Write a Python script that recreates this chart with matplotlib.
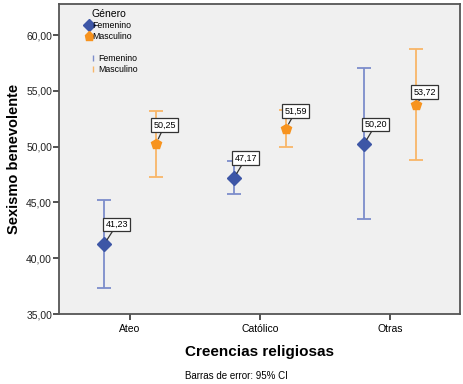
import matplotlib
matplotlib.use("Agg")
import matplotlib.pyplot as plt
import numpy as np
from matplotlib.lines import Line2D
from matplotlib.ticker import FuncFormatter

plt.rcParams['font.family'] = ['Liberation Sans', 'DejaVu Sans']

categories = ["Ateo", "Católico", "Otras"]
fem_mean = [41.23, 47.17, 50.20]
fem_low = [37.33, 45.72, 43.49]
fem_high = [45.22, 48.74, 57.04]
masc_mean = [50.25, 51.59, 53.72]
masc_low = [47.28, 49.96, 48.80]
masc_high = [53.19, 53.28, 58.75]

# label offsets in pixels (box centre relative to point)
fem_off = [(13, 20), (12, 20), (12, 20)]
masc_off = [(9, 19), (10, 18), (9, 13)]

blue = "#3D56A6"
blue_err = "#7C8DCB"
orange = "#F7931E"
orange_err = "#F8B668"

fig = plt.figure(figsize=(4.64, 3.84), dpi=100)
ax = fig.add_axes([59/464, 1-314/384, 401/464, 310/384])
ax.set_facecolor("#F0F0F0")

x = np.arange(len(categories))
dx = 0.2

def draw(xs, mean, lo, hi, ecol, mcol, marker, ms):
    mean = np.array(mean); lo = np.array(lo); hi = np.array(hi)
    ax.errorbar(xs, mean, yerr=[mean - lo, hi - mean], fmt='none', ecolor=ecol,
                elinewidth=1.3, capsize=4.8, capthick=1.3, zorder=2)
    ax.plot(xs, mean, linestyle='none', marker=marker, color=mcol, markersize=ms,
            markeredgecolor=mcol, zorder=3)

draw(x - dx, fem_mean, fem_low, fem_high, blue_err, blue, 'D', 7.5)
draw(x + dx, masc_mean, masc_low, masc_high, orange_err, orange, 'p', 7.5)

def label(xs, vals, offs):
    for xi, v, (ox, oy) in zip(xs, vals, offs):
        ax.annotate(f"{v:.2f}".replace('.', ','), xy=(xi, v),
                    xytext=(ox, oy), textcoords='offset pixels',
                    ha='center', va='center', fontsize=6.5,
                    bbox=dict(boxstyle='square,pad=0.25', fc='white', ec='#333333', lw=0.9),
                    arrowprops=dict(arrowstyle='-', color='#333333', lw=0.9,
                                    shrinkA=0, shrinkB=4), zorder=4)

label(x - dx, fem_mean, fem_off)
label(x + dx, masc_mean, masc_off)

ax.set_xlim(-0.546, 2.54)
ax.set_ylim(35, 62.78)
ax.set_yticks([35, 40, 45, 50, 55, 60])
ax.yaxis.set_major_formatter(FuncFormatter(lambda v, p: f"{v:.2f}".replace('.', ',')))
ax.set_xticks(x)
ax.set_xticklabels(categories)
ax.tick_params(axis='both', labelsize=7.5, colors='#333333', length=4, width=1.2, direction='out')
ax.tick_params(axis='x', pad=3, labelcolor='black')
ax.tick_params(axis='y', pad=1, labelcolor='#222222')
for s in ax.spines.values():
    s.set_color('#555555')
    s.set_linewidth(1.3)

ax.set_ylabel("Sexismo benevolente", fontsize=10.5, fontweight='bold', labelpad=4)
ax.set_xlabel("Creencias religiosas", fontsize=11, fontweight='bold', labelpad=8)
fig.text(236/464, 1-376/384, "Barras de error: 95% CI", ha='center', va='center', fontsize=7)

h1 = [Line2D([], [], marker='D', color=blue, linestyle='none', markersize=6.5),
      Line2D([], [], marker='p', color=orange, linestyle='none', markersize=6.5)]
leg1 = ax.legend(h1, ["Femenino", "Masculino"], title="Género", loc='upper left',
                 bbox_to_anchor=(0.055, 1.0), frameon=False, fontsize=6.3, title_fontsize=7.5,
                 handlelength=0.6, handletextpad=0.1, labelspacing=0.2, borderaxespad=0.2)
ax.add_artist(leg1)
h2 = [Line2D([], [], marker='$\\mathrm{I}$', color=blue_err, linestyle='none', markersize=5),
      Line2D([], [], marker='$\\mathrm{I}$', color=orange_err, linestyle='none', markersize=5)]
ax.legend(h2, ["Femenino", "Masculino"], loc='upper left', bbox_to_anchor=(0.065, 0.855),
          frameon=False, fontsize=6.3, handlelength=0.6, handletextpad=0.3, labelspacing=0.2,
          borderaxespad=0.2)

fig.savefig("out.png", dpi=100, facecolor='white')
